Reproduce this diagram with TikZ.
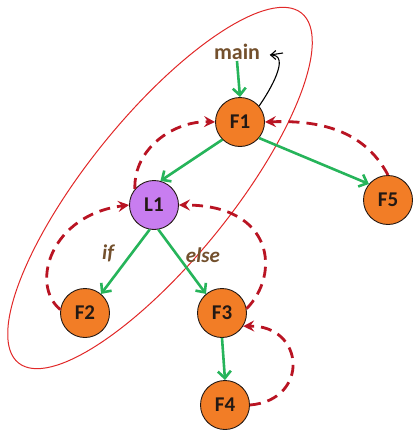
\documentclass[tikz,border=0pt]{standalone}
\usepackage{fontspec}
\setmainfont{Carlito}
\usetikzlibrary{arrows.meta}
\definecolor{nodeorange}{RGB}{242,125,38}
\definecolor{nodeviolet}{RGB}{200,125,240}
\definecolor{callgreen}{RGB}{38,180,90}
\definecolor{retred}{RGB}{185,20,35}
\definecolor{labelbrown}{RGB}{115,80,45}
\definecolor{scopered}{RGB}{225,40,40}
\definecolor{txtdark}{RGB}{35,25,20}
\tikzset{
  fn/.style={circle, draw=txtdark, line width=0.9pt, fill=nodeorange, minimum size=49pt, inner sep=0pt, font=\fontsize{21}{21}\selectfont\bfseries, text=txtdark},
  lp/.style={fn, fill=nodeviolet},
  call/.style={draw=callgreen, line width=2.6pt, -{Straight Barb[length=7pt,width=13pt,line width=2.6pt]}},
  ret/.style={draw=retred, line width=2.8pt, dash pattern=on 11pt off 7pt, -{Stealth[length=11pt,width=11pt,inset=4pt]}},
  lbl/.style={font=\fontsize{21}{21}\selectfont\bfseries\itshape, text=labelbrown},
}
\begin{document}
\begin{tikzpicture}[x=1pt,y=1pt]
\useasboundingbox (0,0) rectangle (413,-431);
\draw[scopered, line width=1pt] (160,-188) ellipse[x radius=225, y radius=72, rotate=51];
\node[fn] (F1) at (240,-122) {F1};
\node[lp] (L1) at (154,-205) {L1};
\node[fn] (F2) at (85,-313) {F2};
\node[fn] (F3) at (222,-313) {F3};
\node[fn] (F4) at (225,-405) {F4};
\node[fn] (F5) at (388,-200) {F5};
\node[font=\fontsize{22}{22}\selectfont\bfseries, text=labelbrown, inner sep=1pt] (main) at (237,-52) {main};
\node[lbl] (if) at (108,-253) {if};
\node[lbl] (else) at (203,-255) {else};
\coordinate (mainret) at (270,-55);
% calls
\draw[call] (main.south) -- (F1.north);
\draw[call] (F1.225) -- (L1.75);
\draw[call] (F1.-40) -- (F5.140);
\draw[call] (L1.-100) -- (F2.50);
\draw[call] (L1.-80) -- (F3.130);
\draw[call] (F3.south) -- (F4.north);
% returns
\draw[black, line width=1.1pt, -{Straight Barb[length=5pt,width=9pt]}] (F1.40) to[out=55, in=0] (mainret);
\draw[black, line width=1.1pt] (mainret) -- ++(13,2);
\draw[ret] (L1.140) to[out=92, in=178] (F1.west);
\draw[ret] (F5.north) to[out=118, in=2] (F1.east);
\draw[ret] (F2.172) .. controls (30,-285) and (50,-215) .. (L1.west);
\draw[ret] (F3.10) .. controls (280,-275) and (275,-205) .. (L1.east);
\draw[ret] (F4.east) .. controls (310,-400) and (305,-325) .. (F3.-32);
\end{tikzpicture}
\end{document}
